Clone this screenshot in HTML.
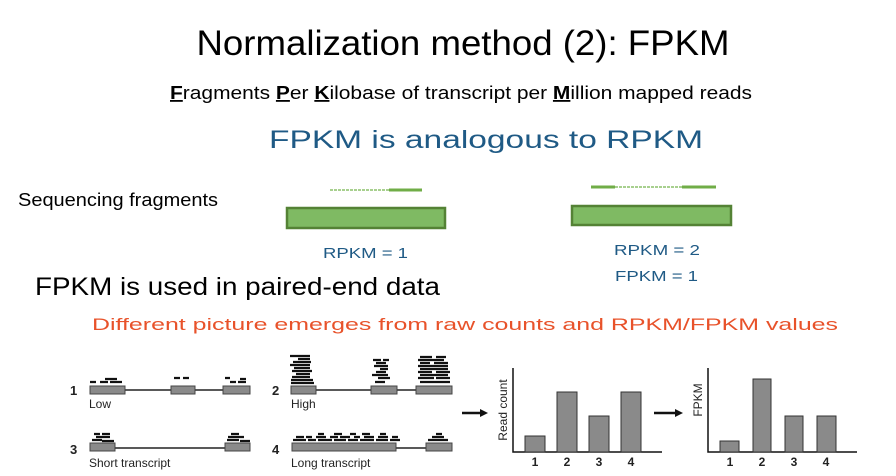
<!DOCTYPE html>
<html><head><meta charset="utf-8"><style>
html,body{margin:0;padding:0;background:#fff;width:896px;height:476px;overflow:hidden}
svg{display:block}
text{font-family:"Liberation Sans",Arial,sans-serif}
</style></head><body>
<svg width="896" height="476" viewBox="0 0 896 476" xmlns="http://www.w3.org/2000/svg">
<text x="463" y="55" font-size="35" text-anchor="middle" textLength="533" lengthAdjust="spacingAndGlyphs">Normalization method (2): FPKM</text>
<text x="170" y="99" font-size="18" textLength="582" lengthAdjust="spacingAndGlyphs"><tspan font-weight="bold" text-decoration="underline">F</tspan>ragments <tspan font-weight="bold" text-decoration="underline">P</tspan>er <tspan font-weight="bold" text-decoration="underline">K</tspan>ilobase of transcript per <tspan font-weight="bold" text-decoration="underline">M</tspan>illion mapped reads</text>
<text x="269" y="148" font-size="25" fill="#1f5a85" textLength="434" lengthAdjust="spacingAndGlyphs">FPKM  is analogous to RPKM</text>
<text x="18" y="206" font-size="18" font-family="Liberation Sans,sans-serif" textLength="200" lengthAdjust="spacingAndGlyphs">Sequencing fragments</text>
<text x="35" y="295" font-size="25" textLength="405" lengthAdjust="spacingAndGlyphs">FPKM is used in paired-end data</text>
<text x="92" y="330" font-size="17" fill="#e8522a" textLength="746" lengthAdjust="spacingAndGlyphs">Different picture emerges from raw counts and RPKM/FPKM values</text>

<line x1="330" y1="190" x2="389" y2="190" stroke="#8cc06a" stroke-width="1.5" stroke-dasharray="3,1"/>
<line x1="389" y1="190" x2="422" y2="190" stroke="#70ad47" stroke-width="3"/>
<rect x="287" y="208" width="158" height="20" fill="#7fba63" stroke="#548235" stroke-width="2.5"/>
<line x1="591" y1="187" x2="615" y2="187" stroke="#70ad47" stroke-width="3"/>
<line x1="615" y1="187" x2="682" y2="187" stroke="#8cc06a" stroke-width="1.5" stroke-dasharray="3,1"/>
<line x1="682" y1="187" x2="716" y2="187" stroke="#70ad47" stroke-width="3"/>
<rect x="572" y="206" width="159" height="19" fill="#7fba63" stroke="#548235" stroke-width="2.5"/>
<text x="323" y="258" font-size="15" fill="#1f5a85" textLength="85" lengthAdjust="spacingAndGlyphs">RPKM = 1</text>
<text x="614" y="255" font-size="15" fill="#1f5a85" textLength="86" lengthAdjust="spacingAndGlyphs">RPKM = 2</text>
<text x="615" y="281" font-size="15" fill="#1f5a85" textLength="83" lengthAdjust="spacingAndGlyphs">FPKM = 1</text>

<g font-size="13" font-weight="bold" fill="#222">
<text x="70" y="395">1</text><text x="272" y="395">2</text>
<text x="70" y="454">3</text><text x="272" y="454">4</text>
</g>
<g font-size="12" fill="#222">
<text x="89" y="408">Low</text><text x="291" y="408">High</text>
<text x="89" y="467">Short transcript</text><text x="291" y="467">Long transcript</text>
</g>
<g stroke="#222" stroke-width="1.5">
<line x1="125" y1="390" x2="223" y2="390"/>
<line x1="316" y1="390" x2="416" y2="390"/>
<line x1="115" y1="448" x2="225" y2="448"/>
<line x1="396" y1="448" x2="426" y2="448"/>
</g>
<g fill="#8a8a8a" stroke="#444" stroke-width="1">
<rect x="90" y="386" width="35" height="8"/><rect x="171" y="386" width="24" height="8"/><rect x="223" y="386" width="27" height="8"/>
<rect x="291" y="386" width="25" height="8"/><rect x="371" y="386" width="26" height="8"/><rect x="416" y="386" width="36" height="8"/>
<rect x="90" y="443" width="25" height="8"/><rect x="225" y="443" width="25" height="8"/>
<rect x="292" y="443" width="104" height="8"/><rect x="426" y="443" width="26" height="8"/>
</g>
<g stroke="#111" stroke-width="2.2">
<path d="M90 382h6M100 382h8M110 382h12M105 379h12M174 378h6M183 378h6M225 378h5M230 382h6M238 382h8M240 379h6"/>
<path d="M291 383h23M291 380h22M292 377h18M296 374h14M292 371h20M294 368h16M290 365h20M293 362h18M298 359h12M290 356h14M300 356h10"/>
<path d="M375 382h10M378 378h12M372 375h16M376 372h10M380 369h8M374 366h14M376 363h10M373 360h8M383 360h6"/>
<path d="M420 382h24M428 382h22M418 378h16M436 378h14M420 375h28M418 372h14M436 372h14M420 369h28M418 366h30M420 363h10M434 363h14M418 360h26M420 357h12M436 357h10"/>
<path d="M92 440h10M102 441h12M96 437h14M94 434h6M102 434h8M227 440h12M240 441h10M228 437h16M231 434h8"/>
<path d="M293 440h13M308 440h8M318 440h14M334 440h12M348 440h10M360 440h14M376 440h12M390 440h10M296 437h8M306 437h6M316 437h10M330 437h8M340 437h10M354 437h6M364 437h10M378 437h10M392 437h6M318 434h6M334 434h8M350 434h6M362 434h8M380 434h6M428 440h20M432 437h12M436 434h6"/>
</g>

<g stroke="#111" stroke-width="2.5">
<line x1="462" y1="413" x2="482" y2="413"/>
<line x1="654" y1="413" x2="677" y2="413"/>
</g>
<polygon points="480,409 488,413 480,417" fill="#111"/>
<polygon points="675,409 683,413 675,417" fill="#111"/>
<g stroke="#111" stroke-width="1.5" fill="none">
<path d="M513 368V452H662"/>
<path d="M708 368V452H857"/>
</g>
<g fill="#8a8a8a" stroke="#333" stroke-width="1">
<rect x="525" y="436" width="20" height="16"/><rect x="557" y="392" width="20" height="60"/>
<rect x="589" y="416" width="20" height="36"/><rect x="621" y="392" width="20" height="60"/>
<rect x="720" y="441" width="19" height="11"/><rect x="753" y="379" width="18" height="73"/>
<rect x="785" y="416" width="18" height="36"/><rect x="817" y="416" width="19" height="36"/>
</g>
<g font-size="12" font-weight="bold" fill="#222" text-anchor="middle">
<text x="535" y="466">1</text><text x="567" y="466">2</text><text x="599" y="466">3</text><text x="631" y="466">4</text>
<text x="730" y="466">1</text><text x="762" y="466">2</text><text x="794" y="466">3</text><text x="826" y="466">4</text>
</g>
<text transform="translate(507,410) rotate(-90)" font-size="12" text-anchor="middle" fill="#222">Read count</text>
<text transform="translate(702,400) rotate(-90)" font-size="12" text-anchor="middle" fill="#222">FPKM</text>
</svg>
</body></html>
